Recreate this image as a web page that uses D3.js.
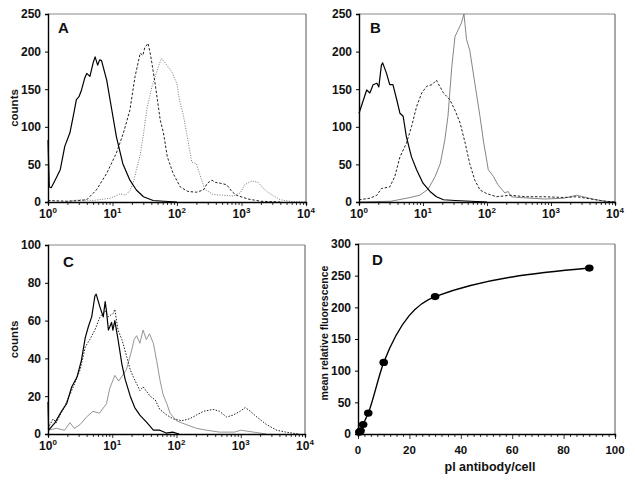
<!DOCTYPE html>
<html>
<head>
<meta charset="utf-8">
<script src="https://cdn.jsdelivr.net/npm/d3@7"></script>
<style>
  html, body { margin: 0; padding: 0; background: #fff; }
  svg { display: block; }
  text { font-family: "Liberation Sans", Arial, sans-serif; font-weight: bold; fill: #111; }
</style>
</head>
<body>
<svg id="chart" width="635" height="486"></svg>
<script>
// ---------- DATA (x as log10 of fluorescence, y as counts) ----------
const histXTicks = [1, 10, 100, 1000, 10000];
const countTicksAB = [0, 50, 100, 150, 200, 250];
const countTicksC = [0, 20, 40, 60, 80, 100];

// Panel A
const aSolid = [[0,82],[0.02,20],[0.05,19],[0.11,29],[0.19,43],[0.26,74],[0.34,92],[0.4,118],[0.44,136],[0.48,140],[0.52,149],[0.57,165],[0.6,171],[0.65,167],[0.7,185],[0.73,193],[0.77,182],[0.8,189],[0.83,188],[0.87,175],[0.91,162],[0.99,122],[1.06,87],[1.16,51],[1.27,29],[1.37,16],[1.48,7],[1.63,2],[1.8,1],[2.0,0]];
const aDashed = [[0,2],[0.3,1],[0.5,2],[0.6,3],[0.75,16],[0.91,38],[1.06,65],[1.17,92],[1.27,122],[1.31,145],[1.35,167],[1.43,198],[1.47,195],[1.5,205],[1.55,211],[1.58,200],[1.61,185],[1.66,158],[1.74,109],[1.79,92],[1.85,60],[1.94,38],[2.05,20],[2.17,14],[2.3,13],[2.41,16],[2.47,25],[2.54,29],[2.6,26],[2.67,25],[2.77,23],[2.85,14],[2.92,9],[3.1,4],[3.3,1],[3.6,0]];
const aDotted = [[0.3,1],[0.5,3],[0.7,2],[0.96,5],[1.05,8],[1.12,11],[1.2,9],[1.27,15],[1.33,28],[1.37,43],[1.43,63],[1.48,90],[1.53,122],[1.61,153],[1.66,166],[1.71,180],[1.76,191],[1.8,187],[1.86,180],[1.92,173],[2.0,157],[2.04,135],[2.1,115],[2.15,91],[2.23,53],[2.3,51],[2.36,35],[2.43,17],[2.56,10],[2.7,9],[2.87,8],[2.98,12],[3.05,23],[3.16,28],[3.26,26],[3.34,18],[3.44,11],[3.6,3],[3.75,1],[4,0]];

// Panel B
const bSolid = [[0,118],[0.07,136],[0.12,149],[0.17,145],[0.22,156],[0.28,158],[0.31,153],[0.35,182],[0.37,185],[0.43,171],[0.48,156],[0.53,156],[0.59,136],[0.64,118],[0.69,114],[0.74,87],[0.82,60],[0.9,43],[1.0,25],[1.11,14],[1.21,7],[1.32,3],[1.5,2],[1.75,1],[2.0,0]];
const bDashed = [[0,3],[0.17,5],[0.28,9],[0.35,18],[0.48,20],[0.56,34],[0.64,60],[0.74,78],[0.82,100],[0.9,127],[0.98,145],[1.06,154],[1.14,156],[1.21,162],[1.26,154],[1.32,145],[1.42,136],[1.5,122],[1.58,105],[1.66,78],[1.73,51],[1.81,29],[1.89,16],[2.0,11],[2.15,7],[2.36,9],[2.6,7],[2.88,7],[3.2,6],[3.4,7],[3.7,3],[3.85,1],[4,0]];
const bDotted = [[0,0],[0.5,1],[0.8,6],[0.95,9],[1.08,17],[1.19,34],[1.27,51],[1.34,82],[1.39,114],[1.45,180],[1.5,220],[1.55,229],[1.6,238],[1.64,250],[1.68,216],[1.73,202],[1.81,158],[1.89,114],[1.95,78],[2.02,43],[2.1,34],[2.17,23],[2.28,12],[2.33,14],[2.38,7],[2.5,6],[2.9,4],[3.2,5],[3.4,9],[3.5,7],[3.7,3],[3.85,1],[4,0]];

// Panel C
const cSolid = [[0,17],[0.01,2],[0.11,6],[0.21,12],[0.29,16],[0.37,25],[0.45,30],[0.52,39],[0.58,51],[0.63,57],[0.68,62],[0.73,73],[0.75,74],[0.81,67],[0.86,62],[0.89,70],[0.91,65],[0.94,55],[0.99,59],[1.01,55],[1.04,60],[1.09,50],[1.15,37],[1.2,29],[1.28,20],[1.35,14],[1.43,10],[1.54,6],[1.64,2],[1.74,2],[1.84,0.5],[1.94,1],[2.04,0]];
const cDashed = [[0,3],[0.08,8],[0.13,6],[0.29,17],[0.37,23],[0.5,34],[0.58,46],[0.65,50],[0.73,55],[0.81,62],[0.89,65],[0.94,62],[1.02,64],[1.04,66],[1.09,55],[1.15,50],[1.2,44],[1.28,34],[1.33,30],[1.43,23],[1.48,25],[1.59,20],[1.67,18],[1.74,13],[1.85,10],[1.95,8],[2.08,7],[2.2,8],[2.31,10],[2.42,12],[2.57,13],[2.67,12],[2.78,9],[2.88,10],[2.99,12],[3.07,14],[3.15,12],[3.25,9],[3.4,5],[3.56,2],[3.7,1],[3.9,0]];
const cDotted = [[0,2],[0.13,3],[0.26,2],[0.34,6],[0.41,3],[0.5,5],[0.6,9],[0.7,12],[0.8,11],[0.91,16],[0.96,24],[1.04,31],[1.1,28],[1.22,34],[1.3,44],[1.34,50],[1.38,52],[1.43,48],[1.48,55],[1.53,50],[1.58,53],[1.64,48],[1.69,39],[1.74,29],[1.79,21],[1.85,16],[1.9,11],[2.0,7],[2.15,5],[2.31,3],[2.47,2],[2.67,1],[2.9,1],[3.0,2],[3.2,1],[3.4,0]];

// Panel D
const dAntibody = [0.5, 1, 2, 4, 10, 30, 90];
const dFluor = [3, 5, 15, 33, 113, 217, 262];
const dXTicks = [0, 20, 40, 60, 80, 100];
const dYTicks = [0, 50, 100, 150, 200, 250, 300];

// ---------- DRAWING ----------
const svg = d3.select("#chart");

function frame(g, x0, x1, yT, yB) {
  g.append("line").attr("x1", x0).attr("x2", x1).attr("y1", yT).attr("y2", yT)
    .attr("stroke", "#888").attr("stroke-width", 1);
  g.append("line").attr("x1", x1).attr("x2", x1).attr("y1", yT).attr("y2", yB)
    .attr("stroke", "#555").attr("stroke-width", 1);
}

function drawHist(cfg) {
  const g = svg.append("g");
  const x = d3.scaleLog().domain([1, 10000]).range([cfg.x0, cfg.x1]);
  const y = d3.scaleLinear().domain([0, cfg.yMax]).range([cfg.yB, cfg.yT]);
  frame(g, cfg.x0, cfg.x1, cfg.yT, cfg.yB);

  const line = d3.line().x(d => x(Math.pow(10, d[0]))).y(d => y(d[1]));
  cfg.series.forEach(s => {
    g.append("path").datum(s.data).attr("d", line)
      .attr("fill", "none").attr("stroke", s.color).attr("stroke-width", s.width)
      .attr("stroke-dasharray", s.dash || null).attr("stroke-linejoin", "round");
  });

  // x axis (log) with minor ticks
  const xAxis = d3.axisBottom(x).tickValues(x.ticks()).tickSize(3).tickFormat("");
  const gx = g.append("g").attr("transform", `translate(0,${cfg.yB})`).call(xAxis);
  gx.select(".domain").attr("stroke", "#000").attr("stroke-width", 1.4);
  gx.selectAll(".tick line").attr("stroke", "#000").attr("stroke-width", 0.8)
    .filter(d => histXTicks.includes(d)).attr("y2", 4);
  histXTicks.forEach(v => {
    const t = g.append("text").attr("x", x(v)).attr("y", cfg.yB + 16)
      .attr("text-anchor", "middle").attr("font-size", 12);
    t.append("tspan").text("10");
    t.append("tspan").attr("font-size", 8).attr("dy", -5).text(Math.round(Math.log10(v)));
  });

  // y axis
  const yAxis = d3.axisLeft(y).tickValues(cfg.yTicks).tickSize(3).tickPadding(4);
  const gy = g.append("g").attr("transform", `translate(${cfg.x0},0)`).call(yAxis);
  gy.select(".domain").attr("stroke", "#000").attr("stroke-width", 1.4);
  gy.selectAll(".tick line").attr("stroke", "#000");
  gy.selectAll(".tick text").attr("font-size", 12).attr("font-family", "Liberation Sans, Arial, sans-serif")
    .attr("font-weight", "bold").attr("fill", "#111");

  g.append("text").attr("x", cfg.lx).attr("y", cfg.ly).attr("font-size", 15).text(cfg.letter);
  if (cfg.ylabel) {
    g.append("text").attr("transform", `translate(18,${(cfg.yT + cfg.yB) / 2}) rotate(-90)`)
      .attr("text-anchor", "middle").attr("font-size", 11.5).text("counts");
  }
}

drawHist({ x0: 48, x1: 306, yT: 14, yB: 202, yMax: 250, yTicks: countTicksAB, letter: "A", lx: 58, ly: 33, ylabel: true,
  series: [
    { data: aDotted, color: "#777", width: 1, dash: "1,1.5" },
    { data: aDashed, color: "#222", width: 1, dash: "2.5,1.8" },
    { data: aSolid, color: "#000", width: 1.2 }
  ] });

drawHist({ x0: 359, x1: 615, yT: 14, yB: 202, yMax: 250, yTicks: countTicksAB, letter: "B", lx: 370, ly: 33, ylabel: false,
  series: [
    { data: bDotted, color: "#777", width: 0.9 },
    { data: bDashed, color: "#222", width: 1, dash: "2.5,1.8" },
    { data: bSolid, color: "#000", width: 1.2 }
  ] });

drawHist({ x0: 48, x1: 305, yT: 245, yB: 434, yMax: 100, yTicks: countTicksC, letter: "C", lx: 63, ly: 267, ylabel: true,
  series: [
    { data: cDotted, color: "#888", width: 0.9 },
    { data: cDashed, color: "#222", width: 1, dash: "1.5,1.5" },
    { data: cSolid, color: "#000", width: 1.2 }
  ] });

// Panel D
(function () {
  const x0 = 358, x1 = 615, yT = 244, yB = 434;
  const g = svg.append("g");
  const x = d3.scaleLinear().domain([0, 100]).range([x0, x1]);
  const y = d3.scaleLinear().domain([0, 300]).range([yB, yT]);
  frame(g, x0, x1, yT, yB);

  const pts = dAntibody.map((a, i) => [a, dFluor[i]]);
  g.append("path").datum(pts)
    .attr("d", d3.line().x(d => x(d[0])).y(d => y(d[1])).curve(d3.curveMonotoneX))
    .attr("fill", "none").attr("stroke", "#000").attr("stroke-width", 1.4);
  g.selectAll("ellipse").data(pts).enter().append("ellipse")
    .attr("cx", d => x(d[0])).attr("cy", d => y(d[1])).attr("rx", 4.3).attr("ry", 3.6).attr("fill", "#000");

  const minor = d3.range(0, 100.01, 2.5);
  const xAxis = d3.axisBottom(x).tickValues(minor).tickSize(3).tickFormat("");
  const gx = g.append("g").attr("transform", `translate(0,${yB})`).call(xAxis);
  gx.select(".domain").attr("stroke", "#000").attr("stroke-width", 1.4);
  gx.selectAll(".tick line").attr("stroke", "#000").attr("stroke-width", 0.8)
    .filter(d => dXTicks.includes(d)).attr("y2", 5);
  dXTicks.forEach(v => {
    g.append("text").attr("x", x(v)).attr("y", yB + 20).attr("text-anchor", "middle").attr("font-size", 11.5).text(v);
  });

  const yAxis = d3.axisLeft(y).tickValues(dYTicks).tickSize(3).tickPadding(4);
  const gy = g.append("g").attr("transform", `translate(${x0},0)`).call(yAxis);
  gy.select(".domain").attr("stroke", "#000").attr("stroke-width", 1.4);
  gy.selectAll(".tick line").attr("stroke", "#000");
  gy.selectAll(".tick text").attr("font-size", 12).attr("font-family", "Liberation Sans, Arial, sans-serif")
    .attr("font-weight", "bold").attr("fill", "#111");

  g.append("text").attr("x", 372).attr("y", 265).attr("font-size", 15).text("D");
  g.append("text").attr("transform", `translate(328,${(yT + yB) / 2 - 6}) rotate(-90)`)
    .attr("text-anchor", "middle").attr("font-size", 10.5).text("mean relative fluorescence");
  g.append("text").attr("x", 490).attr("y", 471).attr("text-anchor", "middle").attr("font-size", 12.5).text("pl antibody/cell");
})();
</script>
</body>
</html>
